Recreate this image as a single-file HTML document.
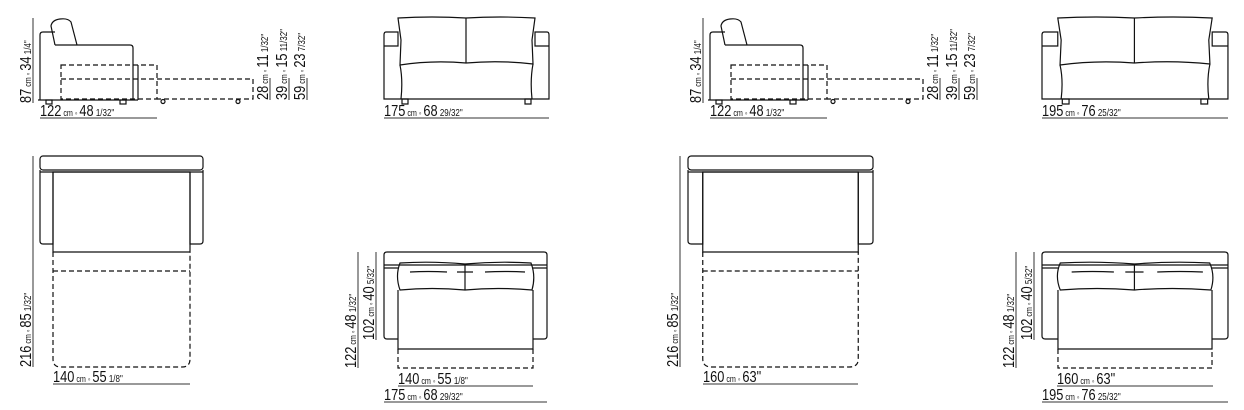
<!DOCTYPE html>
<html><head><meta charset="utf-8"><style>
html,body{margin:0;padding:0;background:#fff;width:1244px;height:410px;overflow:hidden}
svg{display:block}
text{font-family:"Liberation Sans Narrow","Liberation Sans",sans-serif;fill:#111}
.b{font-size:16px}.s{font-size:9px}.f{font-size:10px}
.l{stroke:#111;stroke-width:1.2;fill:none}
.d{stroke:#111;stroke-width:1.2;fill:none;stroke-dasharray:5 3}
.g{stroke:#333;stroke-width:1;fill:none}
</style></head><body>
<svg width="1244" height="410" viewBox="0 0 1244 410" xmlns="http://www.w3.org/2000/svg">
<defs>
<g id="side">
 <path class="l" d="M40,100 V35 Q40,32 43,32 H55"/>
 <path class="l" d="M55,45 L51,26 Q52,20 60,19 Q68,18 71,22 L77,45"/>
 <path class="l" d="M55,45 H130 Q133,45 133,48 V100"/>
 <path class="l" d="M138,65 V100 M38,100 H138"/>
 <rect class="l" x="46" y="100" width="6" height="4"/>
 <rect class="l" x="120" y="100" width="6" height="4"/>
 <rect class="d" x="61" y="65" width="96" height="34"/>
 <path class="d" d="M61,79 H253 V99 H157"/>
 <circle class="l" cx="163" cy="101.5" r="2"/>
 <circle class="l" cx="238" cy="101.5" r="2"/>
 <path class="g" d="M33,18 V103 M40,118 H157 M270,78 V100 M289,78 V100 M307,78 V100"/>
</g>
<g id="front">
 <path class="l" vector-effect="non-scaling-stroke" d="M386,32 H398 V46 H384 V35 Q384,32 386,32 Z M384,46 V99 H549 V46 H535 V32 H547 Q549,32 549,35 V46"/>
 <path class="l" vector-effect="non-scaling-stroke" d="M398,18 Q432,16 466,18 Q500,16 535,18 L532,40 L533,64 Q500,60 466,63 Q432,60 400,65 L401,40 Z M466,18 V63"/>
 <path class="l" vector-effect="non-scaling-stroke" d="M400,65 Q403,80 401,99 M533,64 Q530,80 532,99"/>
 <rect class="l" vector-effect="non-scaling-stroke" x="402" y="99" width="6" height="5"/>
 <rect class="l" vector-effect="non-scaling-stroke" x="525" y="99" width="6" height="5"/>
</g>
<g id="plan">
 <rect class="l" vector-effect="non-scaling-stroke" x="40" y="156" width="163" height="14" rx="3"/>
 <path class="l" vector-effect="non-scaling-stroke" d="M40,170 V241 Q40,244 43,244 H53 V172 M40,172 H203 M203,170 V241 Q203,244 200,244 H190 V172"/>
 <rect class="l" vector-effect="non-scaling-stroke" x="53" y="172" width="137" height="80"/>
 <path class="d" vector-effect="non-scaling-stroke" d="M53,252 V359 Q53,367 61,367 H182 Q190,367 190,359 V252 M53,271 H190"/>
</g>
<g id="plan2">
 <path class="l" vector-effect="non-scaling-stroke" d="M384,265 V255 Q384,252 387,252 H544 Q547,252 547,255 V265 H384 M384,265 V336 Q384,339 387,339 H398 M547,265 V336 Q547,339 544,339 H533 M384,268 H398 M533,268 H547"/>
 <path class="l" vector-effect="non-scaling-stroke" d="M398,290 V349 H533 V290"/>
 <path class="l" vector-effect="non-scaling-stroke" d="M400,263 Q432,261 465,264 Q498,261 531,263 Q536,276 532,290 Q498,287 465,290 Q432,287 400,290 Q395,276 400,263 Z M465,264 V290"/>
 <path class="l" vector-effect="non-scaling-stroke" d="M410,272 Q428,271 447,272 M485,272 Q505,271 525,272 M457,272 H473"/>
 <path class="d" vector-effect="non-scaling-stroke" d="M398,349 V368 H533 V349"/>
</g>
</defs>

<use href="#side"/>
<use href="#side" transform="translate(670,0)"/>
<use href="#front"/>
<use href="#front" transform="translate(1042,0) scale(1.127,1) translate(-384,0)"/>
<use href="#plan"/>
<use href="#plan" transform="translate(688,0) scale(1.135,1) translate(-40,0)"/>
<use href="#plan2"/>
<use href="#plan2" transform="translate(1042,0) scale(1.141,1) translate(-384,0)"/>

<path class="g" d="M384,118 H549 M1042,118 H1228 M33,156 V367 M53,384 H190 M680,156 V367 M703,384 H858 M358,252 V368 M376,252 V340 M398,386 H533 M384,402 H547 M1016,252 V368 M1034,252 V340 M1057,386 H1213 M1042,402 H1228"/>

<g>
<text transform="translate(31,103) rotate(-90) scale(0.8,1)"><tspan class="b">87</tspan><tspan class="s"> cm ◦ </tspan><tspan class="b">34</tspan><tspan class="f"> 1/4"</tspan></text>
<text transform="translate(40,116) scale(0.8,1)"><tspan class="b">122</tspan><tspan class="s"> cm ◦ </tspan><tspan class="b">48</tspan><tspan class="f"> 1/32"</tspan></text>
<text transform="translate(268,100) rotate(-90) scale(0.8,1)"><tspan class="b">28</tspan><tspan class="s"> cm ◦ </tspan><tspan class="b">11</tspan><tspan class="f"> 1/32"</tspan></text>
<text transform="translate(287,100) rotate(-90) scale(0.8,1)"><tspan class="b">39</tspan><tspan class="s"> cm ◦ </tspan><tspan class="b">15</tspan><tspan class="f"> 11/32"</tspan></text>
<text transform="translate(305,100) rotate(-90) scale(0.8,1)"><tspan class="b">59</tspan><tspan class="s"> cm ◦ </tspan><tspan class="b">23</tspan><tspan class="f"> 7/32"</tspan></text>
</g>
<g transform="translate(670,0)">
<text transform="translate(31,103) rotate(-90) scale(0.8,1)"><tspan class="b">87</tspan><tspan class="s"> cm ◦ </tspan><tspan class="b">34</tspan><tspan class="f"> 1/4"</tspan></text>
<text transform="translate(40,116) scale(0.8,1)"><tspan class="b">122</tspan><tspan class="s"> cm ◦ </tspan><tspan class="b">48</tspan><tspan class="f"> 1/32"</tspan></text>
<text transform="translate(268,100) rotate(-90) scale(0.8,1)"><tspan class="b">28</tspan><tspan class="s"> cm ◦ </tspan><tspan class="b">11</tspan><tspan class="f"> 1/32"</tspan></text>
<text transform="translate(287,100) rotate(-90) scale(0.8,1)"><tspan class="b">39</tspan><tspan class="s"> cm ◦ </tspan><tspan class="b">15</tspan><tspan class="f"> 11/32"</tspan></text>
<text transform="translate(305,100) rotate(-90) scale(0.8,1)"><tspan class="b">59</tspan><tspan class="s"> cm ◦ </tspan><tspan class="b">23</tspan><tspan class="f"> 7/32"</tspan></text>
</g>

<text transform="translate(384,116) scale(0.8,1)"><tspan class="b">175</tspan><tspan class="s"> cm ◦ </tspan><tspan class="b">68</tspan><tspan class="f"> 29/32"</tspan></text>
<text transform="translate(1042,116) scale(0.8,1)"><tspan class="b">195</tspan><tspan class="s"> cm ◦ </tspan><tspan class="b">76</tspan><tspan class="f"> 25/32"</tspan></text>

<text transform="translate(31,367) rotate(-90) scale(0.8,1)"><tspan class="b">216</tspan><tspan class="s"> cm ◦ </tspan><tspan class="b">85</tspan><tspan class="f"> 1/32"</tspan></text>
<text transform="translate(53,382) scale(0.8,1)"><tspan class="b">140</tspan><tspan class="s"> cm ◦ </tspan><tspan class="b">55</tspan><tspan class="f"> 1/8"</tspan></text>
<text transform="translate(678,367) rotate(-90) scale(0.8,1)"><tspan class="b">216</tspan><tspan class="s"> cm ◦ </tspan><tspan class="b">85</tspan><tspan class="f"> 1/32"</tspan></text>
<text transform="translate(703,382) scale(0.8,1)"><tspan class="b">160</tspan><tspan class="s"> cm ◦ </tspan><tspan class="b">63"</tspan></text>

<text transform="translate(356,368) rotate(-90) scale(0.8,1)"><tspan class="b">122</tspan><tspan class="s"> cm ◦ </tspan><tspan class="b">48</tspan><tspan class="f"> 1/32"</tspan></text>
<text transform="translate(374,340) rotate(-90) scale(0.8,1)"><tspan class="b">102</tspan><tspan class="s"> cm ◦ </tspan><tspan class="b">40</tspan><tspan class="f"> 5/32"</tspan></text>
<text transform="translate(398,384) scale(0.8,1)"><tspan class="b">140</tspan><tspan class="s"> cm ◦ </tspan><tspan class="b">55</tspan><tspan class="f"> 1/8"</tspan></text>
<text transform="translate(384,400) scale(0.8,1)"><tspan class="b">175</tspan><tspan class="s"> cm ◦ </tspan><tspan class="b">68</tspan><tspan class="f"> 29/32"</tspan></text>

<text transform="translate(1014,368) rotate(-90) scale(0.8,1)"><tspan class="b">122</tspan><tspan class="s"> cm ◦ </tspan><tspan class="b">48</tspan><tspan class="f"> 1/32"</tspan></text>
<text transform="translate(1032,340) rotate(-90) scale(0.8,1)"><tspan class="b">102</tspan><tspan class="s"> cm ◦ </tspan><tspan class="b">40</tspan><tspan class="f"> 5/32"</tspan></text>
<text transform="translate(1057,384) scale(0.8,1)"><tspan class="b">160</tspan><tspan class="s"> cm ◦ </tspan><tspan class="b">63"</tspan></text>
<text transform="translate(1042,400) scale(0.8,1)"><tspan class="b">195</tspan><tspan class="s"> cm ◦ </tspan><tspan class="b">76</tspan><tspan class="f"> 25/32"</tspan></text>
</svg>
</body></html>
